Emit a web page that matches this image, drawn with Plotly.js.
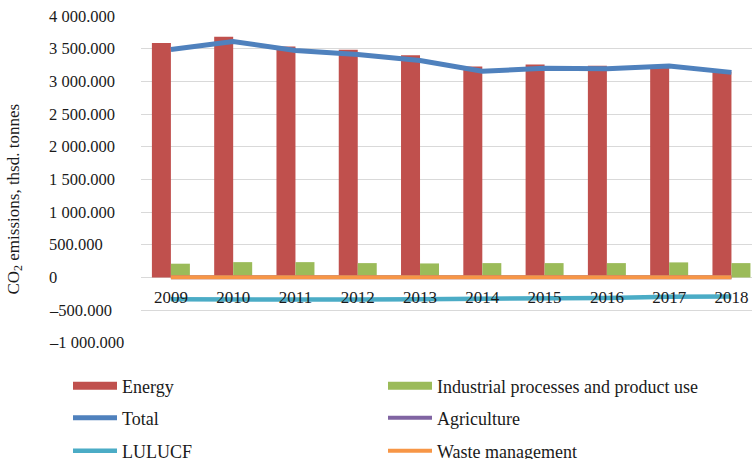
<!DOCTYPE html>
<html>
<head>
<meta charset="utf-8">
<script src="https://cdn.plot.ly/plotly-3.0.1.min.js"></script>
<style>html,body{margin:0;padding:0;background:#fff;}#chart{width:752px;height:459px;}</style>
</head>
<body>
<div id="chart"></div>
<script>
// ---- data (thsd. tonnes) ----
const years = ['2009','2010','2011','2012','2013','2014','2015','2016','2017','2018'];
const energy = [3588, 3686, 3537, 3487, 3404, 3228, 3261, 3242, 3230, 3150];
const industrial = [211, 235, 235, 220, 215, 220, 220, 220, 231, 220];
const total = [3491, 3614, 3476, 3414, 3322, 3157, 3204, 3194, 3238, 3140];
const agriculture = [5, 5, 4, 4, 4, 4, 4, 4, 4, 4];
const lulucf = [-335, -340, -340, -338, -333, -330, -318, -313, -295, -292];
const waste = [3, 3, 3, 3, 3, 3, 3, 3, 2, 2];
const yTickVals = [4000, 3500, 3000, 2500, 2000, 1500, 1000, 500, 0, -500, -1000];
const yTickText = ['4 000.000','3 500.000','3 000.000','2 500.000','2 000.000','1 500.000','1 000.000','500.000','0','–500.000','–1 000.000'];

// ---- style ----
const FONT = 'Liberation Serif, Times New Roman, serif';
const TXT = '#1a1a1a';
const W = 752, H = 459;
const M = {l: 141, r: 0, t: 16, b: 116, autoexpand: false};
const yRange = [-1003, 4003];
const xRange = [-0.48, 9.33];
const plotW = W - M.l - M.r;
const plotH = H - M.t - M.b;

const xAxisAt = -112; // data value where year labels hang
const xPos = (xAxisAt - yRange[0]) / (yRange[1] - yRange[0]);

const traces = [
  {type: 'bar', name: 'Energy', x: years, y: energy, marker: {color: '#C0504D'}, legend: 'legend'},
  {type: 'bar', name: 'Industrial processes and product use', x: years, y: industrial, marker: {color: '#9BBB59'}, legend: 'legend2'},
  {type: 'scatter', mode: 'lines', name: 'Total', x: years, y: total, line: {color: '#4F81BD', width: 5}, legend: 'legend3'},
  {type: 'scatter', mode: 'lines', name: 'Agriculture', x: years, y: agriculture, line: {color: '#8064A2', width: 4}, legend: 'legend4'},
  {type: 'scatter', mode: 'lines', name: 'LULUCF', x: years, y: lulucf, line: {color: '#4BACC6', width: 4.5}, legend: 'legend5'},
  {type: 'scatter', mode: 'lines', name: 'Waste management', x: years, y: waste, line: {color: '#F79646', width: 4}, legend: 'legend6'}
];

// legend item anchor positions (symbol left edge px, row center px)
const legendSpots = [[73, 386], [388, 386], [73, 418], [388, 418], [73, 451], [388, 451]];
const LEG_OFF = 5;
function legendObj(i) {
  const p = legendSpots[i];
  return {
    xref: 'container', yref: 'container',
    x: (p[0] - LEG_OFF) / W, y: 1 - p[1] / H,
    xanchor: 'left', yanchor: 'middle',
    bgcolor: 'rgba(0,0,0,0)', borderwidth: 0,
    itemwidth: 44,
    font: {family: FONT, size: 18, color: TXT}
  };
}

const annotations = yTickVals.map((v, i) => ({
  xref: 'paper', yref: 'y', x: (47 - M.l) / plotW, y: v,
  xanchor: 'left', yanchor: 'middle', showarrow: false,
  text: yTickText[i], font: {family: FONT, size: 16.5, color: TXT}
}));
annotations.push({
  xref: 'paper', yref: 'paper', x: (15 - M.l) / plotW, y: 0.5 - 20 / plotH,
  xanchor: 'center', yanchor: 'middle', showarrow: false, textangle: -90,
  text: 'CO<sub>2</sub> emissions, thsd. tonnes', font: {family: FONT, size: 17, color: TXT}
});

const layout = {
  width: W, height: H,
  margin: M,
  paper_bgcolor: '#ffffff', plot_bgcolor: '#ffffff',
  font: {family: FONT, color: TXT},
  barmode: 'group', bargap: 0.39, bargroupgap: 0,
  showlegend: true,
  xaxis: {
    type: 'category', range: xRange, anchor: 'free', position: xPos,
    showgrid: false, zeroline: false, showline: false, ticks: '', automargin: false,
    tickfont: {family: FONT, size: 17, color: TXT}
  },
  yaxis: {
    range: yRange, tickvals: yTickVals, showticklabels: false, automargin: false,
    showgrid: true, gridcolor: '#d9d9d9', gridwidth: 1,
    zeroline: true, zerolinecolor: '#d9d9d9', zerolinewidth: 1,
    showline: false, ticks: ''
  },
  legend: legendObj(0), legend2: legendObj(1), legend3: legendObj(2),
  legend4: legendObj(3), legend5: legendObj(4), legend6: legendObj(5),
  annotations: annotations
};

function widenBarSwatches() {
  document.querySelectorAll('g.legendpoints path').forEach(function (p) {
    const d = p.getAttribute('d') || '';
    if (d.indexOf('M6,6H-6V-6H6Z') === 0 || p.classList.contains('legendbar') || p.getAttribute('data-wide') === '1') {
      p.setAttribute('transform', '');
      p.setAttribute('d', 'M5,4h44v-8h-44Z');
      p.setAttribute('data-wide', '1');
    }
  });
}

const gdEl = document.getElementById('chart');
Plotly.newPlot(gdEl, traces, layout, {displayModeBar: false, staticPlot: true}).then(function (gd) {
  widenBarSwatches();
  gd.on && gd.on('plotly_afterplot', widenBarSwatches);
  setTimeout(widenBarSwatches, 50);
  setTimeout(widenBarSwatches, 300);
});
</script>
</body>
</html>
